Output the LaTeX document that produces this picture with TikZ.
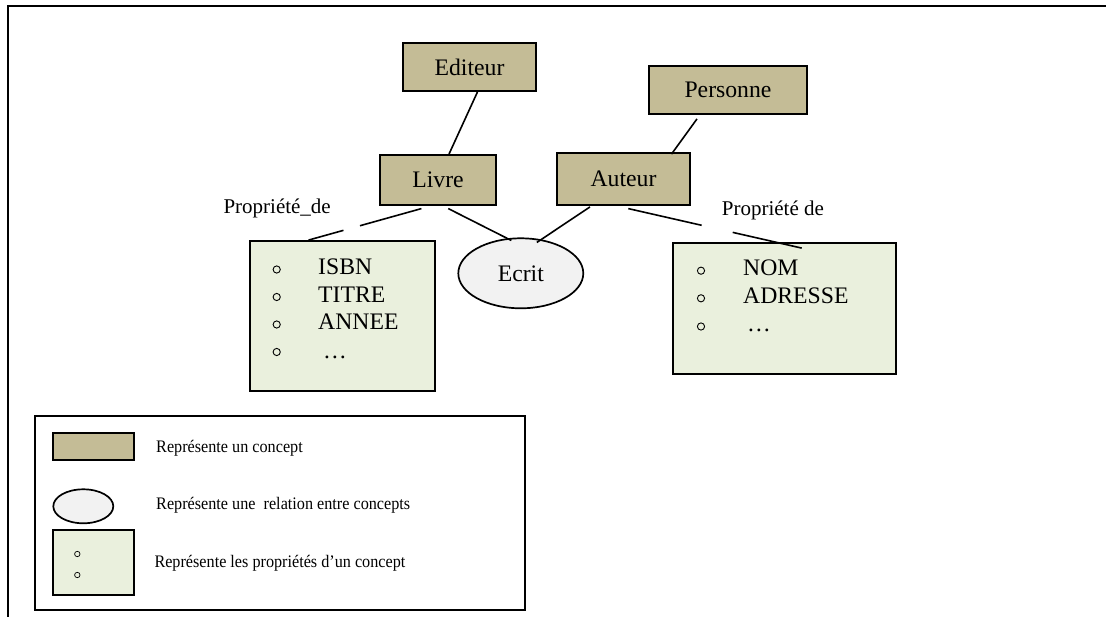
\documentclass[tikz,border=0pt]{standalone}
\usepackage{fontspec}
\setmainfont{Liberation Serif}
\usetikzlibrary{calc,shapes.geometric}
\definecolor{concepttan}{HTML}{C4BC96}
\definecolor{propgreen}{HTML}{EAF0DD}
\definecolor{relgrey}{HTML}{F2F2F2}
\newcommand{\bigfont}{\fontsize{23.7}{28}\selectfont}
\newcommand{\labfont}{\fontsize{21}{25}\selectfont}
\newcommand{\legfont}{\fontsize{17.6}{21}\selectfont}
\newcommand{\legtext}[1]{\scalebox{0.92}[1]{\legfont #1}}
\begin{document}
\begin{tikzpicture}[x=1pt,y=-1pt,
  conceptbox/.style={draw,line width=1.8pt,fill=concepttan,inner sep=0pt,font=\bigfont},
  propbox/.style={draw,line width=1.8pt,fill=propgreen,inner sep=0pt},
  relation/.style={draw,line width=1.7pt,fill=relgrey,ellipse,inner sep=0pt,font=\bigfont},
  link/.style={line width=1.6pt},
  item/.style={inner sep=0pt,anchor=base west,font=\bigfont},
  bullet/.style={line width=0.9pt},
  lab/.style={inner sep=0pt,anchor=base west,font=\labfont},
  legtxt/.style={inner sep=0pt,anchor=base west}]
\useasboundingbox (0,0) rectangle (1106,617);

% frame
\draw[line width=2pt] (1106,6.5) -- (8.3,6.5) -- (8.3,617);

% concepts
\node[conceptbox,minimum width=133pt,minimum height=48pt] (editeur) at (469.5,67) {Editeur};
\node[conceptbox,minimum width=116pt,minimum height=50pt] (livre) at (438,180) {Livre};
\node[conceptbox,minimum width=133pt,minimum height=52pt] (auteur) at (623.5,179) {Auteur};
\node[conceptbox,minimum width=158pt,minimum height=48pt] (personne) at (728,90) {Personne};

% relation
\node[relation,minimum width=125pt,minimum height=70pt] (ecrit) at (520.8,273.3) {Ecrit};

% property boxes
\node[propbox,minimum width=185pt,minimum height=150pt] (isbnbox) at (342.5,316) {};
\node[propbox,minimum width=223pt,minimum height=131pt] (nombox) at (784.5,308.5) {};

\foreach \y in {269.5,297,324.5,352} \draw[bullet] (276.7,\y) circle (3.6pt);
\node[item] (isbn) at (318,275) {ISBN};
\node[item] (titre) at (318,302.5) {TITRE};
\node[item] (annee) at (318,330) {ANNEE};
\node[item] (etc1) at (323,358.5) {…};

\foreach \y in {270.7,298.3,326.5} \draw[bullet] (701,\y) circle (3.6pt);
\node[item] (nom) at (743,276) {NOM};
\node[item] (adresse) at (743,304) {ADRESSE};
\node[item] (etc2) at (747,332) {…};

% labels
\node[lab] (propA) at (223.3,214) {Propriété\_de};
\node[lab] (propB) at (721.7,215.7) {Propriété de};

% connectors
\draw[link] ([xshift=8pt]editeur.south) -- ([xshift=11pt]livre.north);
\draw[link] ([xshift=-31pt,yshift=-4pt]personne.south) -- ([xshift=48pt,yshift=-2pt]auteur.north);
\draw[link] ([xshift=10.3pt,yshift=-2.7pt]livre.south) -- ([xshift=-9.5pt,yshift=-3pt]ecrit.north);
\draw[link] ([xshift=-33.5pt,yshift=-1pt]auteur.south) -- ([xshift=16pt,yshift=-5pt]ecrit.north);

\coordinate (lp1) at ([xshift=-16.6pt,yshift=-2.7pt]livre.south);
\coordinate (lp2) at ([xshift=-34pt]isbnbox.north);
\draw[link] (lp1) -- ($(lp1)!0.544!(lp2)$) ($(lp1)!0.69!(lp2)$) -- (lp2);

\coordinate (ap1) at ([xshift=4.8pt,yshift=-2.7pt]auteur.south);
\coordinate (ap2) at ([xshift=17.2pt,yshift=-6pt]nombox.north);
\draw[link] (ap1) -- ($(ap1)!0.423!(ap2)$) ($(ap1)!0.602!(ap2)$) -- (ap2);

% legend
\node[draw,line width=1.9pt,inner sep=0pt,minimum width=490pt,minimum height=194pt] (legend) at (280,513) {};
\node[conceptbox,minimum width=81pt,minimum height=27pt] (legconcept) at (93.5,446.5) {};
\node[relation,minimum width=60pt,minimum height=34pt] (legrel) at (83.3,506.3) {};
\node[propbox,minimum width=81pt,minimum height=65pt] (legprop) at (93.5,562.5) {};
\foreach \y in {554,575} \draw[line width=0.7pt] (77.3,\y) circle (2.7pt);
\node[legtxt] (leg1) at (156,452.5) {\legtext{Représente un concept}};
\node[legtxt] (leg2) at (156,509.5) {\legtext{Représente une\ \ relation entre concepts}};
\node[legtxt] (leg3) at (154.3,567.5) {\legtext{Représente les propriétés d’un concept}};
\end{tikzpicture}
\end{document}
